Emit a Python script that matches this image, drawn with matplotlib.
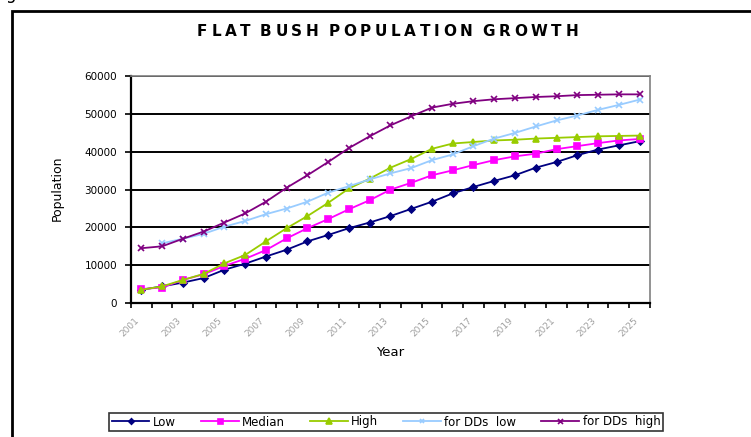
import numpy as np
import matplotlib.pyplot as plt
from matplotlib.patches import Rectangle
from matplotlib.transforms import ScaledTranslation
from matplotlib.textpath import TextToPath
from matplotlib.font_manager import FontProperties

plt.rcParams['font.family'] = ['DejaVu Sans']

years = list(range(2001, 2026))
low = [3500, 4400, 5400, 6600, 8800, 10400, 12300, 14100, 16300, 18000, 19800, 21300, 23000,
       24900, 26800, 29000, 30700, 32300, 33800, 35800, 37300, 39100, 40600, 41700, 42800]
median = [3700, 4100, 6100, 7600, 9800, 11700, 14000, 17100, 19800, 22200, 24800, 27200, 30000,
          31800, 33800, 35100, 36500, 37800, 38800, 39500, 40700, 41500, 42300, 43000, 43400]
high = [3500, 4400, 6100, 7700, 10500, 12700, 16300, 19800, 23000, 26500, 30300, 32900, 35800,
        38100, 40800, 42200, 42600, 43000, 43200, 43500, 43700, 43900, 44100, 44200, 44300]
dds_low = [np.nan, 15800, 17000, 18300, 20200, 21700, 23500, 25000, 26800, 29200, 30900, 32700, 34300,
           35700, 37800, 39300, 41500, 43500, 45000, 46700, 48300, 49600, 51100, 52400, 53800]
dds_high = [14500, 15000, 17000, 18900, 21300, 23700, 26800, 30500, 33800, 37300, 41000, 44100, 47000,
            49400, 51700, 52700, 53400, 53900, 54200, 54500, 54700, 55000, 55100, 55200, 55200]

series = [
    ("Low", low, "#000080", "D", 3.5),
    ("Median", median, "#FF00FF", "s", 4.5),
    ("High", high, "#99CC00", "^", 5),
    ("for DDs  low", dds_low, "#99CCFF", "x", 4),
    ("for DDs  high", dds_high, "#800080", "x", 4.5),
]

W, H = 751, 437
fig = plt.figure(figsize=(W / 100, H / 100), dpi=100)
ax = fig.add_axes([0.1744, 0.3066, 0.691, 0.519])


def spaced_text(fig, xc, y, s, span, size, **kw):
    # lay the string out one glyph at a time so it fills a given pixel span
    prop = FontProperties(family='DejaVu Sans', size=size, weight='bold')
    ttp = TextToPath()
    widths = []
    for ch in s:
        if ch == ' ':
            widths.append(2.0)
        else:
            widths.append(ttp.get_text_width_height_descent(ch, prop, ismath=False)[0] * fig.dpi / 72)
    track = (span - sum(widths)) / (len(s) - 1)
    x = xc - span / 2
    for ch, w in zip(s, widths):
        if ch != ' ':
            fig.text(x / W, y, ch, ha='left', va='center', fontproperties=prop, **kw)
        x += w + track


x = np.arange(len(years))
for name, vals, col, mk, ms in series:
    ax.plot(x, vals, color=col, lw=1.3, marker=mk, ms=ms, mew=1.2, label=name)

ax.set_xlim(-0.5, len(years) - 0.5)
ax.set_ylim(0, 60000)
ax.set_yticks(np.arange(0, 60001, 10000))
ax.set_yticklabels([str(v) for v in range(0, 60001, 10000)], fontsize=7.5)
ax.yaxis.grid(True, color='black', lw=1.4)
ax.set_axisbelow(True)

ax.set_xticks(x[::2])
ax.set_xticklabels([str(y) for y in years[::2]], rotation=45, ha='right', va='top',
                   fontsize=6.5, color='#a0a0a0')
shift = ScaledTranslation(-14 / 100, 0, fig.dpi_scale_trans)
for lab in ax.get_xticklabels():
    lab.set_transform(lab.get_transform() + shift)
ax.set_xticks(np.arange(-0.5, len(years)), minor=True)
ax.tick_params(axis='x', which='major', length=0, pad=9)
ax.tick_params(axis='x', which='minor', length=3.5, width=1.2)
ax.tick_params(axis='y', length=4, width=1.2, pad=6)

for s in ['left', 'bottom']:
    ax.spines[s].set_linewidth(1.6)
for s in ['top', 'right']:
    ax.spines[s].set_color('#808080')
    ax.spines[s].set_linewidth(1.2)

fig.text(57 / W, 1 - 188 / H, "Population", rotation=90, ha='center', va='center', fontsize=9)
fig.text(390 / W, 1 - 352 / H, "Year", ha='center', va='center', fontsize=9.5)

spaced_text(fig, 387.5, 1 - 32 / H, "FLAT BUSH POPULATION GROWTH", 381, 11)
fig.text(0.007, 1.0 + 1 / H, "g", ha='left', va='baseline', fontsize=12)

fig.patches.append(Rectangle((12 / W, -0.1), 1.0, 1.1 - 11 / H,
                             transform=fig.transFigure, fill=False, ec='black', lw=2))

leg = fig.legend(loc='center', bbox_to_anchor=(386 / W, 1 - 422 / H), ncol=5,
                 fontsize=8.5, frameon=True, fancybox=False, handlelength=3.2,
                 columnspacing=2.1, handletextpad=0.3, borderpad=0.2, markerscale=0.8)
leg.get_frame().set_edgecolor('black')
leg.get_frame().set_linewidth(1.2)

fig.savefig("out.png", dpi=100)
